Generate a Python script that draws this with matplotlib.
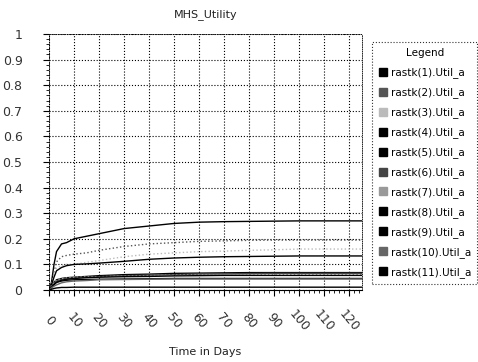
import matplotlib
matplotlib.use("Agg")
import matplotlib.pyplot as plt
from matplotlib.ticker import MultipleLocator

days = [0, 1, 2, 3, 5, 7, 10, 15, 20, 30, 40, 50, 60, 70, 80, 90, 100, 110, 120, 125]

util = {
    "rastk(1).Util_a": [0, 0.03, 0.10, 0.15, 0.18, 0.185, 0.20, 0.21, 0.22, 0.24, 0.25, 0.26, 0.265, 0.267, 0.268, 0.269, 0.27, 0.27, 0.27, 0.27],
    "rastk(2).Util_a": [0, 0.02, 0.07, 0.11, 0.13, 0.135, 0.14, 0.145, 0.155, 0.17, 0.18, 0.185, 0.19, 0.192, 0.194, 0.195, 0.195, 0.195, 0.195, 0.195],
    "rastk(3).Util_a": [0, 0.02, 0.06, 0.085, 0.095, 0.10, 0.10, 0.108, 0.115, 0.13, 0.14, 0.145, 0.15, 0.152, 0.155, 0.157, 0.16, 0.16, 0.16, 0.16],
    "rastk(4).Util_a": [0, 0.02, 0.05, 0.075, 0.088, 0.095, 0.10, 0.102, 0.105, 0.112, 0.12, 0.125, 0.128, 0.13, 0.131, 0.132, 0.133, 0.133, 0.133, 0.133],
    "rastk(5).Util_a": [0, 0.015, 0.03, 0.04, 0.045, 0.048, 0.05, 0.053, 0.056, 0.06, 0.062, 0.065, 0.066, 0.067, 0.068, 0.068, 0.068, 0.068, 0.068, 0.068],
    "rastk(6).Util_a": [0, 0.012, 0.028, 0.036, 0.042, 0.045, 0.048, 0.05, 0.052, 0.056, 0.058, 0.06, 0.062, 0.063, 0.064, 0.065, 0.065, 0.065, 0.065, 0.065],
    "rastk(7).Util_a": [0, 0.015, 0.03, 0.04, 0.045, 0.047, 0.05, 0.051, 0.052, 0.054, 0.056, 0.058, 0.059, 0.06, 0.06, 0.06, 0.06, 0.06, 0.06, 0.06],
    "rastk(8).Util_a": [0, 0.01, 0.022, 0.03, 0.038, 0.042, 0.045, 0.048, 0.05, 0.052, 0.053, 0.055, 0.056, 0.057, 0.057, 0.057, 0.057, 0.057, 0.057, 0.057],
    "rastk(9).Util_a": [0, 0.01, 0.02, 0.03, 0.035, 0.038, 0.04, 0.041, 0.042, 0.043, 0.044, 0.045, 0.045, 0.045, 0.045, 0.045, 0.045, 0.045, 0.045, 0.045],
    "rastk(10).Util_a": [0, 0.008, 0.015, 0.02, 0.028, 0.032, 0.035, 0.037, 0.04, 0.041, 0.042, 0.043, 0.043, 0.043, 0.043, 0.043, 0.043, 0.043, 0.043, 0.043],
    "rastk(11).Util_a": [0, 0.003, 0.006, 0.008, 0.01, 0.01, 0.011, 0.011, 0.011, 0.011, 0.011, 0.011, 0.011, 0.011, 0.011, 0.011, 0.011, 0.011, 0.011, 0.011],
}

colors = ["black", "#555555", "#bbbbbb", "black", "black", "#444444",
          "#999999", "black", "black", "#666666", "black"]
styles = ["-", ":", ":", "-", "-", "-", ":", "-", "-", "-", "-"]

fig = plt.figure(figsize=(4.78, 3.62), dpi=100)
ax = fig.add_axes([49 / 478, 72 / 362, (362 - 49) / 478, 256 / 362])

for (name, vals), c, ls in zip(util.items(), colors, styles):
    ax.plot(days, vals, color=c, linestyle=ls, linewidth=1.0, label=name)

ax.set_xlim(0, 125)
ax.set_ylim(0, 1)
ax.xaxis.set_major_locator(MultipleLocator(10))
ax.xaxis.set_minor_locator(MultipleLocator(2))
ax.yaxis.set_minor_locator(MultipleLocator(0.02))
ax.set_yticks([0, 0.1, 0.2, 0.3, 0.4, 0.5, 0.6, 0.7, 0.8, 0.9, 1.0])
ax.set_yticklabels(["0", "0.1", "0.2", "0.3", "0.4", "0.5", "0.6", "0.7", "0.8", "0.9", "1"])
ax.tick_params(axis="both", which="major", labelsize=9, labelcolor="#333333",
               length=4, width=0.8, direction="out")
ax.tick_params(axis="both", which="minor", length=2.5, width=0.6, direction="out")
ax.tick_params(axis="y", pad=15)
ax.tick_params(axis="x", pad=18)
for lab in ax.get_xticklabels():
    lab.set_rotation(-50)
    lab.set_ha("center")
    lab.set_va("center")

ax.grid(True, which="major", color="black", linestyle=":", linewidth=0.8)
for side in ["top", "right", "left"]:
    ax.spines[side].set_linestyle(":")
    ax.spines[side].set_linewidth(0.6)
ax.spines["bottom"].set_linewidth(0.8)

ax.set_title("MHS_Utility", fontsize=8, color="#222222", pad=12)
fig.text(205 / 478, 1 - 352 / 362, "Time in Days", fontsize=8, color="#222222",
         ha="center", va="center")

handles = [plt.Line2D([], [], marker="s", linestyle="none", markersize=6,
                      markerfacecolor=c, markeredgecolor=c) for c in colors]
leg = fig.legend(handles, list(util.keys()), loc="upper left",
                 bbox_to_anchor=(372 / 478, 1 - 42 / 362), fontsize=7.5,
                 title="Legend", title_fontsize=7.5, frameon=True, fancybox=False,
                 labelspacing=0.87, handletextpad=0.2, handlelength=1.0,
                 borderpad=0.6, borderaxespad=0)
leg.get_frame().set_linestyle(":")
leg.get_frame().set_edgecolor("black")
leg.get_frame().set_linewidth(0.8)

fig.savefig("out.png", dpi=100)
